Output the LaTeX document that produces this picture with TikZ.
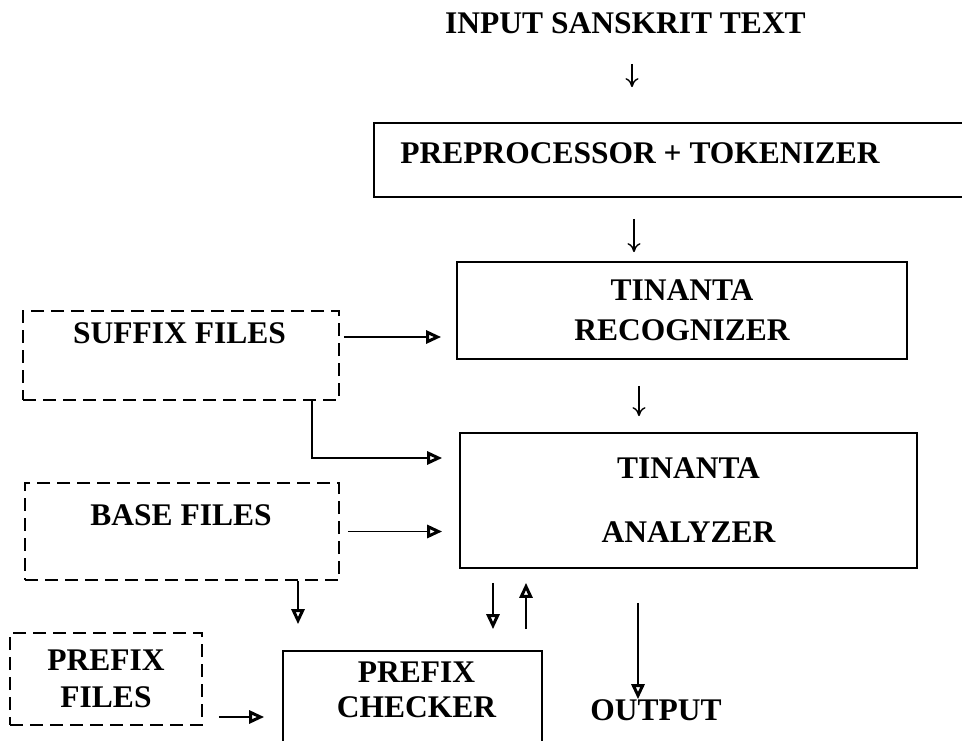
\documentclass[tikz,border=0pt]{standalone}
\usepackage{fontspec}
\setmainfont{Liberation Serif}
\usetikzlibrary{arrows.meta}

\tikzset{
  lbl/.style={font=\bfseries\fontsize{31.5}{38}\selectfont, inner sep=0pt, align=center},
  solidbox/.style={draw, line width=1.7pt, lbl},
  dashbox/.style={solidbox, dash pattern=on 13pt off 7pt},
  stick/.style={line width=1.4pt, -{To[length=9pt,width=13pt]}},
  tri/.style={line width=1.6pt, -{Triangle[open,length=15pt,width=13pt,line width=3pt]}},
}

\begin{document}
\begin{tikzpicture}[x=1pt,y=1pt,yscale=-1]
\useasboundingbox (0,0) rectangle (962,741);
\clip (0,0) rectangle (962,741);
% Text Node
\node[lbl] (input) at (625.5,23) {INPUT SANSKRIT TEXT};
% Boxes
\node[solidbox, minimum width=626pt, minimum height=74pt,
  label={[lbl, name=pretext, xshift=-47pt, yshift=7pt]center:PREPROCESSOR + TOKENIZER}] (pre) at (687,160) {};
\node[solidbox, minimum width=450pt, minimum height=97pt] (recog) at (682,310.5) {TINANTA\\[2pt]RECOGNIZER};
\node[solidbox, minimum width=457pt, minimum height=135pt] (ana) at (688.5,500.5) {TINANTA\\[26pt]ANALYZER};
\node[dashbox, minimum width=316pt, minimum height=89pt,
  label={[lbl, name=suffixtext, xshift=-1.5pt, yshift=22.5pt]center:SUFFIX FILES}] (suffix) at (181,355.5) {};
\node[dashbox, minimum width=314pt, minimum height=97pt,
  label={[lbl, name=basetext, xshift=-1pt, yshift=16.5pt]center:BASE FILES}] (base) at (182,531.5) {};
\node[dashbox, minimum width=192pt, minimum height=92pt] (prefixf) at (106,679) {PREFIX\\[-1pt]FILES};
\node[solidbox, minimum width=259pt, minimum height=110pt,
  label={[lbl, name=checktext, xshift=4pt, yshift=16pt]center:PREFIX\\[-3pt]CHECKER}] (check) at (412.5,706) {};
% Text Node
\node[lbl] (output) at (656,710) {OUTPUT};
% Straight arrows down the middle
\draw[stick, shorten <=30pt, shorten >=35pt] ([xshift=6.5pt]input.south) -- ([xshift=6.5pt]input.south |- pre.north);
\draw[stick, shorten <=21pt, shorten >=9pt] ([xshift=-53pt]pre.south) -- ([xshift=-53pt]pre.south |- recog.north);
\draw[stick, shorten <=26pt, shorten >=16pt] ([xshift=-43pt]recog.south) -- ([xshift=-43pt]recog.south |- ana.north);
% Files into the boxes
\draw[tri, shorten <=4pt, shorten >=15pt] ([yshift=-18.5pt]suffix.east) -- ([yshift=-18.5pt]suffix.east -| recog.west);
\draw[tri, shorten >=17pt] ([xshift=131pt]suffix.south) |- ([yshift=-42.5pt]ana.west);
\draw[tri, shorten <=8pt, shorten >=17pt] (base.east) -- (base.east -| ana.west);
\draw[tri, shorten >=26pt] ([xshift=116pt]base.south) -- ([xshift=116pt]base.south |- check.north);
\draw[tri, shorten <=16pt, shorten >=18pt] ([yshift=38pt]prefixf.east) -- ([yshift=38pt]prefixf.east -| check.west);
% Analyzer and checker
\draw[tri, shorten <=14pt, shorten >=21pt] ([xshift=-195.5pt]ana.south) -- ([xshift=-195.5pt]ana.south |- check.north);
\draw[tri, shorten <=21pt, shorten >=14pt] ([xshift=-162.5pt]ana.south |- check.north) -- ([xshift=-162.5pt]ana.south);
\draw[tri, shorten <=34pt] ([xshift=-50.5pt]ana.south) -- ([xshift=-50.5pt]ana.south |- output.north);
\end{tikzpicture}
\end{document}
